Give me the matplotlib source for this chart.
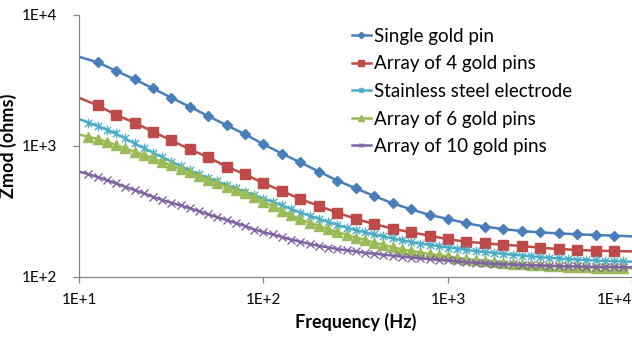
import matplotlib
matplotlib.use("Agg")
import matplotlib.pyplot as plt
from matplotlib.path import Path
from matplotlib.ticker import FixedLocator, FixedFormatter, NullLocator

plt.rcParams["font.family"] = ["Lato", "DejaVu Sans"]

# Frequencies (Hz): 10 points per decade for the first two series, 20 for the rest
freq_coarse = [10, 12.6, 15.8, 20, 25.1, 31.6, 39.8, 50.1, 63.1, 79.4,
               100, 126, 158, 200, 251, 316, 398, 501, 631, 794,
               1000, 1259, 1585, 1995, 2512, 3162, 3981, 5012, 6310, 7943, 10000]
freq_fine = [10, 11.2, 12.6, 14.1, 15.8, 17.8, 20, 22.4, 25.1, 28.2,
             31.6, 35.5, 39.8, 44.7, 50.1, 56.2, 63.1, 70.8, 79.4, 89.1,
             100, 112, 126, 141, 158, 178, 200, 224, 251, 282,
             316, 355, 398, 447, 501, 562, 631, 708, 794, 891,
             1000, 1122, 1259, 1413, 1585, 1778, 1995, 2239, 2512, 2818,
             3162, 3548, 3981, 4467, 5012, 5623, 6310, 7079, 7943, 8913, 10000]

# Impedance modulus (ohms)
single_pin = [4775, 4335, 3740, 3215, 2742, 2324, 1985, 1686, 1432, 1222,
              1026, 869, 747, 634, 541, 473, 413, 363, 327, 296,
              276, 256, 241, 231, 223, 218, 214, 211, 208, 206, 203]
array_4 = [2323, 2032, 1724, 1500, 1283, 1099, 940, 817, 692, 605,
           517, 451, 392, 347, 308, 277, 252, 233, 218, 206,
           193, 185, 180, 175, 172, 166, 163, 160, 158, 157, 156]
steel = [1600, 1503, 1414, 1329, 1240, 1135, 1040, 960, 887, 820,
         757, 700, 647, 605, 567, 533, 501, 473, 445, 420,
         395, 372, 350, 329, 309, 292, 276, 262, 249, 237,
         227, 218, 210, 203, 196, 190, 184, 179, 175, 171,
         167, 164, 160, 157, 154, 152, 149, 147, 145, 143,
         141, 139, 138, 136, 135, 134, 133, 132, 131, 131, 130]
array_6 = [1218, 1171, 1125, 1073, 1012, 955, 900, 849, 801, 755,
           712, 667, 627, 585, 547, 516, 488, 459, 432, 406,
           375, 347, 320, 294, 274, 258, 244, 231, 219, 209,
           199, 191, 182, 175, 168, 162, 158, 153, 149, 146,
           143, 139, 136, 134, 132, 130, 128, 126, 125, 123,
           122, 121, 120, 119, 119, 118, 117, 117, 116, 116, 116]
array_10 = [634, 608, 577, 547, 516, 486, 459, 433, 408, 385,
            367, 350, 333, 316, 299, 285, 271, 257, 244, 229,
            219, 210, 201, 192, 185, 178, 172, 167, 163, 159,
            156, 152, 150, 147, 145, 142, 140, 138, 136, 135,
            133, 131, 129, 128, 127, 125, 124, 124, 123, 122,
            122, 121, 121, 120, 120, 119, 119, 119, 119, 118, 118]

tick_values = [10, 100, 1000, 10000]
x_tick_labels = ["1E+1", "1E+2", "1E+3", "1E+4"]
y_tick_values = [100, 1000, 10000]
y_tick_labels = ["1E+2", "1E+3", "1E+4"]

# Excel style asterisk: vertical bar plus an x
star = Path([(0, -1), (0, 1), (-0.75, -0.75), (0.75, 0.75), (-0.75, 0.75), (0.75, -0.75)],
            [Path.MOVETO, Path.LINETO] * 3)

series = [
    ("Single gold pin", freq_coarse, single_pin, "#4A7EBB", "D", 5.5),
    ("Array of 4 gold pins", freq_coarse, array_4, "#BE4B48", "s", 7.5),
    ("Stainless steel electrode", freq_fine, steel, "#4BACC6", star, 7),
    ("Array of 6 gold pins", freq_fine, array_6, "#9BBB59", "^", 7.5),
    ("Array of 10 gold pins", freq_fine, array_10, "#8064A2", "x", 5.5),
]

fig = plt.figure(figsize=(6.32, 3.39), dpi=100)
ax = fig.add_axes([79 / 632, 1 - 276.7 / 339, 553.5 / 632, 262 / 339])

for name, f, z, color, marker, ms in series:
    ax.plot(f, z, color=color, lw=1.8, marker=marker, markersize=ms,
            markeredgewidth=1.0, markerfacecolor=color, markeredgecolor=color,
            markevery=slice(1, -1), label=name)

ax.set_xscale("log")
ax.set_yscale("log")
ax.set_xlim(10, 10000)
ax.set_ylim(100, 10000)

ax.xaxis.set_major_locator(FixedLocator(tick_values))
ax.xaxis.set_major_formatter(FixedFormatter(x_tick_labels))
ax.yaxis.set_major_locator(FixedLocator(y_tick_values))
ax.yaxis.set_major_formatter(FixedFormatter(y_tick_labels))
ax.xaxis.set_minor_locator(NullLocator())
ax.yaxis.set_minor_locator(NullLocator())

for side in ["top", "right"]:
    ax.spines[side].set_visible(False)
for side in ["left", "bottom"]:
    ax.spines[side].set_color("#868686")
    ax.spines[side].set_linewidth(0.9)

ax.tick_params(axis="both", colors="#868686", length=4, width=0.9, labelsize=11,
               labelcolor="#000000")
ax.tick_params(axis="x", pad=8)
ax.tick_params(axis="y", pad=12)

# Excel pulls the last x label inward so it stays inside the chart
fig.canvas.draw()
ax.get_xticklabels()[-1].set_horizontalalignment("right")

ax.set_xlabel("Frequency (Hz)", fontsize=13, fontweight="bold", labelpad=4)
ax.set_ylabel("Zmod (ohms)", fontsize=13, fontweight="bold")
ax.yaxis.set_label_coords(-0.112, 0.5)

ax.legend(loc="upper left", bbox_to_anchor=(352 / 632, 1 - 28 / 339),
          bbox_transform=fig.transFigure, frameon=False, fontsize=13.5,
          handlelength=1.0, handletextpad=0.15, labelspacing=0.56,
          markerscale=0.6, borderaxespad=0, borderpad=0)

fig.savefig("out.png", dpi=100)
